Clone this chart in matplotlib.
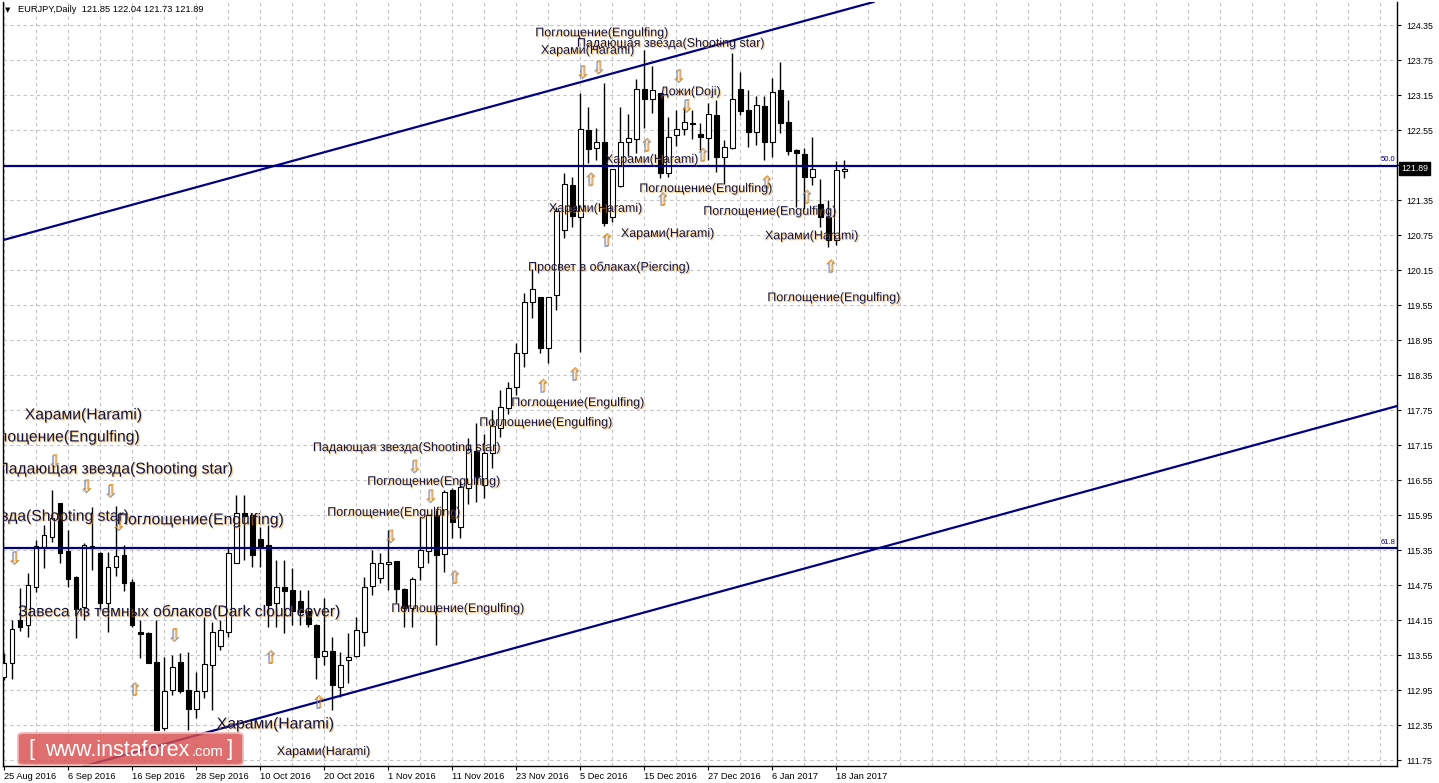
import matplotlib
matplotlib.use("Agg")
import matplotlib.pyplot as plt
import matplotlib.patheffects as pe
import matplotlib.transforms as mtransforms
from matplotlib.patches import FancyBboxPatch
import numpy as np

plt.rcParams['font.family'] = ['Liberation Sans', 'DejaVu Sans']

# EURJPY daily bars, 25 Aug 2016 .. 19 Jan 2017 (one per trading day)
opens = [113.17, 113.42, 114.15, 114.06, 114.71, 115.40, 115.57, 116.16, 115.33, 114.89,
         114.37, 115.42, 115.30, 114.44, 115.06, 115.27, 114.80, 113.95, 113.93, 113.43,
         112.30, 112.95, 113.43, 112.95, 112.63, 112.94, 113.38, 113.71, 113.95, 115.13,
         115.99, 115.95, 115.54, 115.44, 114.44, 114.71, 114.66, 114.48, 114.31, 114.06,
         113.54, 113.62, 113.00, 113.47, 113.54, 113.95, 114.73, 114.87, 115.11, 115.16,
         114.68, 114.36, 115.06, 115.33, 115.95, 115.28, 116.38, 115.75, 116.41, 117.05,
         116.47, 117.01, 117.44, 117.79, 118.15, 118.73, 119.60, 119.69, 118.81, 119.72,
         120.84, 121.61, 121.06, 122.55, 122.24, 122.35, 121.06, 121.59, 122.35, 122.40,
         123.25, 123.08, 123.19, 121.81, 122.47, 122.57, 122.67, 122.48, 122.41, 122.81,
         122.09, 122.24, 123.25, 122.89, 122.52, 122.96, 122.35, 123.24, 122.69, 122.21,
         122.14, 121.74, 121.28, 121.06, 120.67, 121.85]
highs = [113.59, 114.15, 114.70, 114.96, 115.52, 115.78, 116.38, 116.16, 115.69, 114.90,
         115.47, 116.09, 115.31, 115.31, 116.11, 115.44, 114.85, 114.15, 113.95, 114.15,
         113.52, 113.55, 113.59, 113.60, 113.26, 114.20, 114.12, 114.15, 115.39, 116.29,
         116.29, 115.99, 115.75, 115.78, 115.18, 115.18, 115.04, 114.66, 114.66, 114.08,
         114.53, 113.86, 113.60, 113.93, 114.20, 114.89, 115.35, 115.30, 115.69, 115.16,
         114.70, 114.89, 115.92, 115.95, 116.04, 116.38, 116.41, 116.53, 117.27, 117.53,
         117.34, 117.75, 118.09, 118.23, 118.90, 119.76, 120.17, 119.69, 119.69, 121.23,
         121.81, 121.75, 123.19, 122.94, 122.59, 123.36, 121.88, 122.94, 122.82, 123.42,
         123.92, 123.65, 123.19, 122.77, 122.89, 122.94, 122.89, 122.67, 123.01, 123.07,
         122.38, 123.87, 123.55, 123.24, 123.13, 123.13, 123.44, 123.72, 123.07, 122.23,
         122.24, 122.43, 121.71, 121.35, 122.02, 122.04]
lows = [113.12, 113.14, 113.97, 113.86, 114.63, 115.04, 115.49, 115.13, 114.71, 113.84,
        114.15, 115.01, 114.32, 113.95, 114.90, 114.65, 114.03, 113.50, 113.42, 112.27,
        112.27, 112.87, 112.90, 112.27, 112.47, 112.81, 112.61, 113.64, 113.86, 115.13,
        115.18, 115.06, 115.06, 114.03, 114.03, 113.93, 114.06, 114.06, 114.03, 113.14,
        113.38, 112.61, 112.83, 113.07, 113.52, 113.71, 114.58, 114.79, 114.67, 114.44,
        114.03, 114.03, 114.84, 115.13, 113.72, 114.97, 115.56, 115.56, 116.14, 116.17,
        116.24, 116.76, 117.29, 117.68, 118.01, 118.49, 119.33, 118.73, 118.56, 119.46,
        120.70, 120.89, 118.75, 121.99, 122.04, 120.91, 120.97, 121.57, 122.11, 122.16,
        122.59, 122.84, 121.73, 121.75, 122.28, 122.47, 122.40, 122.21, 122.04, 121.83,
        121.63, 122.23, 122.81, 122.26, 122.29, 122.04, 122.09, 122.50, 122.12, 121.23,
        121.20, 121.61, 120.89, 120.55, 120.58, 121.73]
closes = [113.42, 113.99, 114.03, 114.75, 115.42, 115.61, 115.90, 115.30, 114.85, 114.34,
          115.44, 115.38, 114.44, 115.06, 115.25, 114.78, 114.06, 113.91, 113.42, 112.27,
          112.94, 113.35, 112.94, 112.63, 112.94, 113.40, 113.95, 113.98, 115.30, 115.99,
          115.94, 115.27, 115.42, 114.41, 114.71, 114.65, 114.31, 114.29, 114.08, 113.52,
          113.62, 113.04, 113.38, 113.52, 113.98, 114.71, 115.13, 115.13, 115.15, 114.68,
          114.36, 114.85, 115.35, 115.95, 115.27, 116.35, 115.83, 116.43, 117.08, 116.60,
          117.01, 117.48, 117.80, 118.13, 118.73, 119.60, 119.83, 118.81, 119.69, 121.16,
          121.63, 121.08, 122.57, 122.22, 122.35, 120.96, 121.88, 122.35, 122.41, 123.25,
          123.08, 123.24, 121.81, 122.43, 122.57, 122.69, 122.65, 122.43, 122.82, 122.09,
          122.26, 123.08, 122.88, 122.52, 122.98, 122.35, 123.20, 122.67, 122.19, 122.16,
          121.74, 121.88, 121.06, 120.67, 121.87, 121.89]

date_bars = [0, 8, 16, 24, 32, 40, 48, 56, 64, 72, 80, 88, 96, 104]
date_labels = ["25 Aug 2016", "6 Sep 2016", "16 Sep 2016", "28 Sep 2016", "10 Oct 2016",
               "20 Oct 2016", "1 Nov 2016", "11 Nov 2016", "23 Nov 2016", "5 Dec 2016",
               "15 Dec 2016", "27 Dec 2016", "6 Jan 2017", "18 Jan 2017"]
price_ticks = [111.75, 112.35, 112.95, 113.55, 114.15, 114.75, 115.35, 115.95, 116.55,
               117.15, 117.75, 118.35, 118.95, 119.55, 120.15, 120.75, 121.35, 121.95,
               122.55, 123.15, 123.75, 124.35]

# fibo levels and channel (bar, price) anchor points
fib_levels = [121.94, 115.38]
fib_names = ["50.0", "61.8"]
upper_channel = [(-0.5, 120.65), (108.25, 124.73)]
lower_channel = [(109.5, 115.39), (174.1, 117.82)]

# candle pattern signals
down_bars = [1, 6, 10, 13, 14, 21, 48, 51, 53, 72, 74, 84, 85]
down_prices = [115.20, 116.86, 116.43, 116.35, 115.78, 113.88, 115.57, 116.77, 116.26,
               123.53, 123.61, 123.46, 122.95]
up_bars = [16, 33, 39, 56, 67, 71, 73, 75, 80, 82, 87, 95, 100, 103]
up_prices = [112.95, 113.50, 112.73, 114.87, 118.15, 118.35, 121.69, 120.65, 122.28,
             121.35, 122.11, 121.64, 121.39, 120.20]

ENG = "Поглощение(Engulfing)"
HAR = "Харами(Harami)"
SHS = "Падающая звезда(Shooting star)"
label_texts = [HAR, ENG, SHS, SHS, ENG, "Завеса из темных облаков(Dark cloud cover)", HAR,
               HAR, ENG, ENG, ENG, SHS, ENG, ENG, "Просвет в облаках(Piercing)", HAR, HAR,
               HAR, ENG, ENG, HAR, ENG, "Дожи(Doji)", ENG, SHS, HAR]
label_bars = [2.6, 17.1, 28.75, 15.75, 14.1, 1.75, 26.6,
              34.1, 48.4, 40.4, 45.4, 38.6, 59.4, 63.4, 65.5, 68.1, 77.1,
              75.1, 79.4, 87.4, 95.1, 95.4, 82.0, 66.4, 71.6, 67.1]
label_prices = [117.67, 117.29, 116.74, 115.93, 115.87, 114.30, 112.37,
                111.89, 114.34, 115.99, 116.52, 117.10, 117.53, 117.87, 120.20, 121.20, 120.77,
                122.04, 121.54, 121.15, 120.73, 119.67, 123.20, 124.21, 124.03, 123.91]
label_big = [True, True, True, True, True, True, True] + [False] * 19
label_right = [False, True, True, True, False, False, False] + [False] * 19

W, H = 1439, 783
fig = plt.figure(figsize=(W / 100, H / 100), dpi=100)
ax = fig.add_axes([3 / W, 1 - 766 / H, (1397 - 3) / W, (766 - 2) / H])
ax.set_xlim(-0.125, 174.1)
ax.set_ylim(111.649, 124.746)

# grid
for b in range(0, 175, 4):
    ax.axvline(b, color='#c4c4c4', lw=0.8, ls=(0, (3, 3)), zorder=0)
for p in price_ticks:
    ax.axhline(p, color='#c4c4c4', lw=0.8, ls=(0, (3, 3)), zorder=0)

# candles
x = np.arange(len(opens))
o = np.array(opens)
c = np.array(closes)
ax.vlines(x, lows, highs, color='black', lw=1.0, zorder=2)
body_bottom = np.minimum(o, c)
body_h = np.maximum(np.abs(c - o), 0.015)
colors = np.where(c >= o, 'white', 'black')
ax.bar(x, body_h, bottom=body_bottom, width=0.62, color=colors, edgecolor='black',
       linewidth=0.8, zorder=3)

# fibo levels and channel
navy = '#000080'
yblend = mtransforms.blended_transform_factory(ax.transAxes, ax.transData)
for lvl, name in zip(fib_levels, fib_names):
    ax.axhline(lvl, color=navy, lw=1.6, zorder=4)
    ax.text(0.999, lvl + 0.04, name, transform=yblend,
            ha='right', va='bottom', fontsize=5.5, color=navy, zorder=5)
ax.axline(upper_channel[0], upper_channel[1], color=navy, lw=1.6, zorder=4)
ax.axline(lower_channel[0], lower_channel[1], color=navy, lw=1.6, zorder=4)

# pattern arrows
arrow_fx = [pe.withSimplePatchShadow(offset=(-0.7, -0.7), shadow_rgbFace='#3050a0', alpha=0.55)]
for b, p in zip(down_bars, down_prices):
    ax.text(b + 0.4, p, '⇩', fontsize=12.5, ha='center', va='center', color='#e08a14',
            family='DejaVu Sans', path_effects=arrow_fx, zorder=6, clip_on=True)
for b, p in zip(up_bars, up_prices):
    ax.text(b + 0.4, p, '⇧', fontsize=12.5, ha='center', va='center', color='#e08a14',
            family='DejaVu Sans', path_effects=arrow_fx, zorder=6, clip_on=True)

# pattern labels
text_fx = [pe.withSimplePatchShadow(offset=(0.8, -0.8), shadow_rgbFace='#f0a030', alpha=0.55)]
for t, b, p, big, right in zip(label_texts, label_bars, label_prices, label_big, label_right):
    ax.text(b, p, t, fontsize=11.3 if big else 9, ha='right' if right else 'left', va='center',
            color='#14143a', path_effects=text_fx, zorder=7, clip_on=True)

# axes styling
for s in ['left', 'right', 'bottom']:
    ax.spines[s].set_color('black')
    ax.spines[s].set_linewidth(1.0)
ax.spines['top'].set_visible(False)
ax.yaxis.tick_right()
ax.set_yticks(price_ticks)
# the current price box sits on top of the 121.95 level
ax.set_yticklabels(["" if abs(p - closes[-1]) < 0.2 else f"{p:.2f}" for p in price_ticks])
ax.tick_params(axis='y', direction='out', length=3, width=0.8, pad=4, labelsize=6.3)
ax.set_xticks(date_bars)
ax.set_xticklabels(date_labels, ha='left')
ax.tick_params(axis='x', direction='out', length=3, width=0.8, pad=1.5, labelsize=6.7)

# current price marker
ax.text(1.0 + 4 / 1394, closes[-1], f"{closes[-1]:.2f}", transform=yblend,
        ha='left', va='center', fontsize=6.3, color='white', zorder=10, clip_on=False,
        bbox=dict(facecolor='black', edgecolor='black', pad=1.6))

# header
fig.text(5 / W, 1 - 10 / H, '▼', fontsize=5, va='center', ha='left', family='DejaVu Sans')
fig.text(18 / W, 1 - 10 / H, f"EURJPY,Daily  {opens[-1]:.2f} {highs[-1]:.2f} {lows[-1]:.2f} {closes[-1]:.2f}",
         fontsize=6.7, va='center', ha='left')

# watermark
box = FancyBboxPatch((18 / W, 1 - 765 / H), 225 / W, 32 / H,
                     boxstyle='round,pad=0,rounding_size=0.004', transform=fig.transFigure,
                     facecolor='#d94f4f', alpha=0.82, edgecolor='#f0b8b8', lw=1.5, zorder=20)
fig.add_artist(box)
fig.text(28 / W, 1 - 750 / H, '[', fontsize=16, color='white', va='center', ha='left', zorder=21)
fig.text(45 / W, 1 - 750 / H, 'www.instaforex', fontsize=15.5, color='white', va='center', ha='left', zorder=21)
fig.text(192 / W, 1 - 752 / H, '.com', fontsize=10.5, color='white', va='center', ha='left', zorder=21)
fig.text(227 / W, 1 - 750 / H, ']', fontsize=16, color='white', va='center', ha='left', zorder=21)

fig.savefig('out.png', dpi=100)
